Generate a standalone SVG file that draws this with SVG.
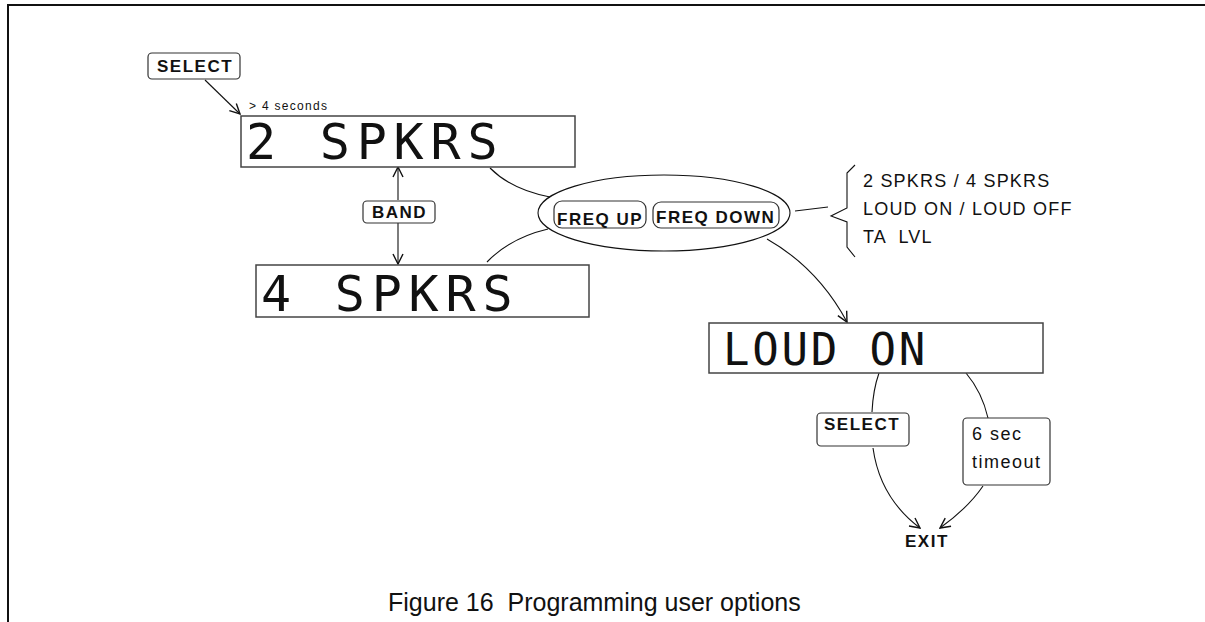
<svg xmlns="http://www.w3.org/2000/svg" width="1205" height="622" viewBox="0 0 1205 622">
<style>
.btn{fill:#fff;stroke:#333;stroke-width:1.2}
.bt{font-family:"Liberation Sans",Arial,sans-serif;font-weight:bold;font-size:17px;letter-spacing:1.5px;fill:#111}
.lcd{fill:#fff;stroke:#444;stroke-width:1.5}
.lt{font-family:"DejaVu Sans Mono",monospace;fill:#111}
.tx{font-family:"Liberation Sans",Arial,sans-serif;fill:#111}
.c{fill:none;stroke:#111;stroke-width:1.1}
</style>
<defs>
<marker id="ah" viewBox="0 0 12 12" refX="11" refY="6" markerWidth="12" markerHeight="12" markerUnits="userSpaceOnUse" orient="auto-start-reverse">
<path d="M1,1 L11,6 L1,11" fill="none" stroke="#111" stroke-width="1.4"/>
</marker>
</defs>
<rect width="1205" height="622" fill="#fff"/>
<path d="M8,622 V5 H1205" fill="none" stroke="#111" stroke-width="2"/>

<g id="connectors">
<path class="c" d="M205,80 L240,114" marker-end="url(#ah)"/>
<path class="c" d="M398,200 L398,167" marker-end="url(#ah)"/>
<path class="c" d="M398,223 L398,264" marker-end="url(#ah)"/>
<path class="c" d="M490,168 Q512,190 550,197"/>
<path class="c" d="M487,262 Q510,238 548,229"/>
<path class="c" d="M795,211 L828,207"/>
<path class="c" d="M767,239 Q818,268 847,322" marker-end="url(#ah)"/>
<path class="c" d="M879,373 Q873,390 872,412"/>
<path class="c" d="M873,448 Q880,498 920,528" marker-end="url(#ah)"/>
<path class="c" d="M966,373 Q982,392 988,418"/>
<path class="c" d="M983,486 Q968,508 940,528" marker-end="url(#ah)"/>
</g>

<g id="select1">
<rect class="btn" x="148" y="53" width="92" height="26" rx="4"/>
<text class="bt" x="157" y="72">SELECT</text>
</g>
<text class="tx" x="249" y="109.5" font-size="12" letter-spacing="1.3">&gt; 4 seconds</text>

<g id="lcd-2spkrs">
<rect class="lcd" x="241" y="116" width="334" height="51"/>
<text class="lt" x="246" y="159" font-size="50" letter-spacing="6.8">2 SPKRS</text>
</g>

<g id="band">
<rect class="btn" x="363" y="201" width="72" height="22" rx="4"/>
<text class="bt" x="372" y="218" letter-spacing="2">BAND</text>
</g>

<g id="lcd-4spkrs">
<rect class="lcd" x="256" y="265" width="333" height="52"/>
<text class="lt" x="261" y="311" font-size="50" letter-spacing="6.8">4 SPKRS</text>
</g>

<g id="freq">
<ellipse cx="664" cy="213" rx="126" ry="38" fill="none" stroke="#111" stroke-width="1.1"/>
<rect class="btn" x="554" y="201" width="92" height="27" rx="8"/>
<text class="bt" x="557" y="225" letter-spacing="2">FREQ UP</text>
<rect class="btn" x="653" y="202" width="126" height="26" rx="8"/>
<text class="bt" x="656" y="223" letter-spacing="2">FREQ DOWN</text>
</g>

<g id="options">
<path d="M855,165 L847,173 L847,208 L831,216 L847,222 L847,247 L855,257" fill="none" stroke="#111" stroke-width="1.1"/>
<text class="tx" font-size="18" letter-spacing="1.2" x="863" y="187">2 SPKRS / 4 SPKRS</text>
<text class="tx" font-size="18" letter-spacing="1.2" x="863" y="215">LOUD ON / LOUD OFF</text>
<text class="tx" font-size="18" letter-spacing="1.2" x="863" y="243" xml:space="preserve">TA  LVL</text>
</g>

<g id="lcd-loudon">
<rect class="lcd" x="709" y="323" width="334" height="50"/>
<text class="lt" x="723" y="365" font-size="44" letter-spacing="2.8">LOUD ON</text>
</g>

<g id="select2">
<rect class="btn" x="817" y="413" width="92" height="33" rx="4"/>
<text class="bt" x="824" y="430">SELECT</text>
</g>

<g id="timeout">
<rect class="btn" x="963" y="418" width="87" height="67" rx="4"/>
<text class="tx" font-size="18" letter-spacing="1.5" x="972" y="440">6 sec</text>
<text class="tx" font-size="18" letter-spacing="1.5" x="972" y="468">timeout</text>
</g>

<g id="exit">
<text class="bt" x="905" y="547" letter-spacing="1">EXIT</text>
</g>

<text class="tx" font-size="25" x="388" y="611" xml:space="preserve">Figure 16  Programming user options</text>
</svg>
